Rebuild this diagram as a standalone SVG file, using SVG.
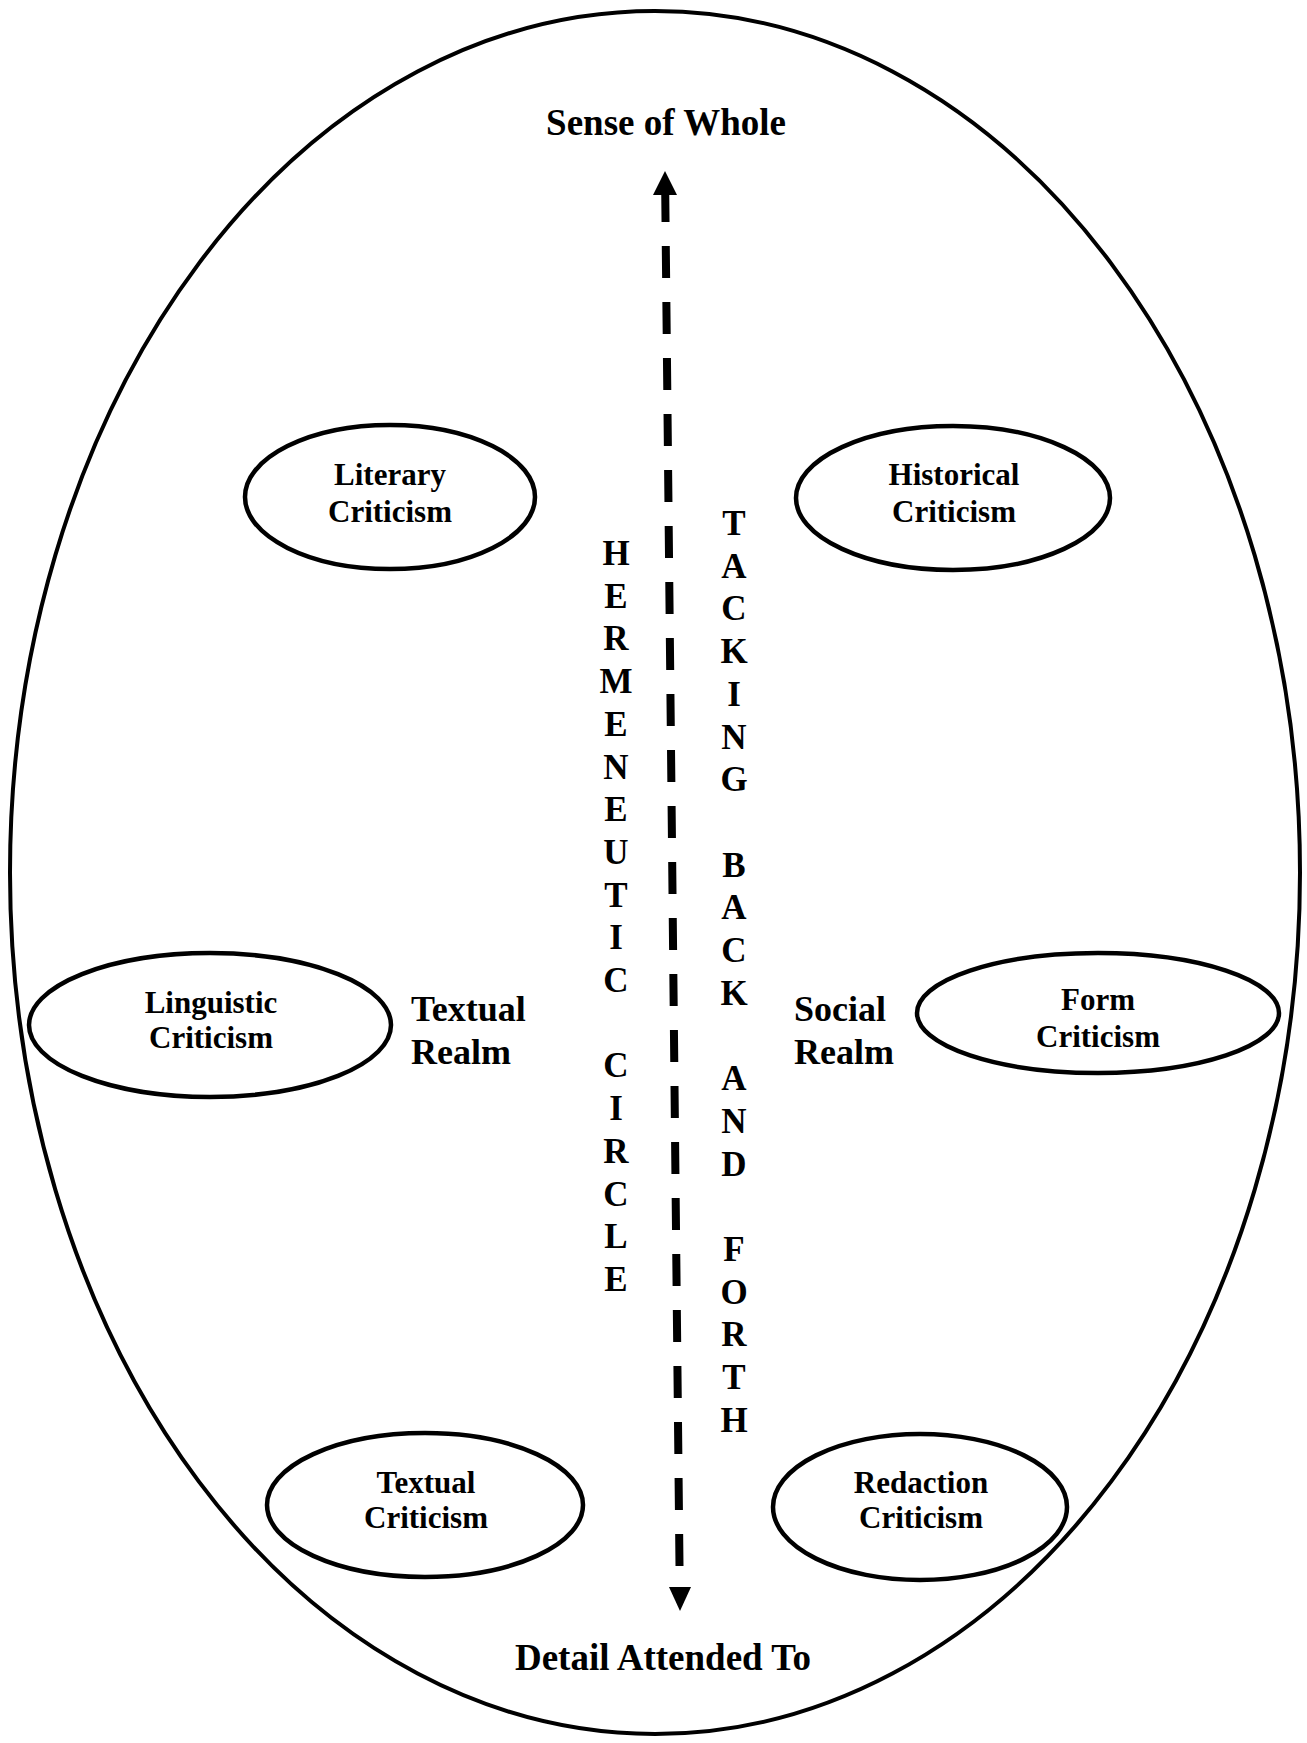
<svg xmlns="http://www.w3.org/2000/svg" width="1307" height="1743" viewBox="0 0 1307 1743">
<style>
.shape{fill:none;stroke:#000;stroke-width:4.5}
.outer{fill:none;stroke:#000;stroke-width:4}
.t{font-family:"Liberation Serif","Times New Roman",serif;font-weight:bold;fill:#000}
.n{font-size:31px;text-anchor:middle}
.big{font-size:37px;text-anchor:middle}
.realm{font-size:36px}
.v{font-size:35px;text-anchor:middle}
.dash{stroke:#000;stroke-width:8;stroke-dasharray:32 24;fill:none}
</style>
<rect x="0" y="0" width="1307" height="1743" fill="#fff"/>
<g id="outer">
<ellipse class="outer" cx="655" cy="872.5" rx="645" ry="861.5"/>
</g>
<g id="sense-of-whole"><text class="t big" x="666" y="135">Sense of Whole</text></g>
<g id="detail-attended-to"><text class="t big" x="663" y="1670">Detail Attended To</text></g>
<g id="connectors">
<line class="dash" x1="665.2" y1="190" x2="679.5" y2="1566"/>
<polygon points="665,171 677,195.1 653,194.9" fill="#000"/>
<polygon points="680,1611 691,1587 669,1587" fill="#000"/>
</g>
<g id="literary-criticism">
<ellipse class="shape" cx="390" cy="497" rx="145" ry="72"/>
<text class="t n" x="390" y="485">Literary</text>
<text class="t n" x="390" y="522">Criticism</text>
</g>
<g id="historical-criticism">
<ellipse class="shape" cx="953" cy="498" rx="157" ry="72"/>
<text class="t n" x="954" y="485">Historical</text>
<text class="t n" x="954" y="522">Criticism</text>
</g>
<g id="linguistic-criticism">
<ellipse class="shape" cx="210" cy="1025" rx="181" ry="72"/>
<text class="t n" x="211" y="1013">Linguistic</text>
<text class="t n" x="211" y="1048">Criticism</text>
</g>
<g id="form-criticism">
<ellipse class="shape" cx="1098" cy="1013" rx="181" ry="60"/>
<text class="t n" x="1098" y="1010">Form</text>
<text class="t n" x="1098" y="1047">Criticism</text>
</g>
<g id="textual-criticism">
<ellipse class="shape" cx="425" cy="1505" rx="158" ry="72"/>
<text class="t n" x="426" y="1493">Textual</text>
<text class="t n" x="426" y="1528">Criticism</text>
</g>
<g id="redaction-criticism">
<ellipse class="shape" cx="920" cy="1507" rx="147" ry="73"/>
<text class="t n" x="921" y="1493">Redaction</text>
<text class="t n" x="921" y="1528">Criticism</text>
</g>
<g id="textual-realm">
<text class="t realm" x="411" y="1021">Textual</text>
<text class="t realm" x="411" y="1064">Realm</text>
</g>
<g id="social-realm">
<text class="t realm" x="794" y="1021">Social</text>
<text class="t realm" x="794" y="1064">Realm</text>
</g>
<g id="hermeneutic-circle">
<text class="t v"><tspan x="616" y="565">H</tspan><tspan x="616" y="607.7">E</tspan><tspan x="616" y="650.4">R</tspan><tspan x="616" y="693.1">M</tspan><tspan x="616" y="735.8">E</tspan><tspan x="616" y="778.5">N</tspan><tspan x="616" y="821.2">E</tspan><tspan x="616" y="863.9">U</tspan><tspan x="616" y="906.6">T</tspan><tspan x="616" y="949.3">I</tspan><tspan x="616" y="992">C</tspan><tspan x="616" y="1077.4">C</tspan><tspan x="616" y="1120.1">I</tspan><tspan x="616" y="1162.8">R</tspan><tspan x="616" y="1205.5">C</tspan><tspan x="616" y="1248.2">L</tspan><tspan x="616" y="1290.9">E</tspan></text>
</g>
<g id="tacking-back-and-forth">
<text class="t v"><tspan x="734" y="535">T</tspan><tspan x="734" y="577.7">A</tspan><tspan x="734" y="620.4">C</tspan><tspan x="734" y="663.1">K</tspan><tspan x="734" y="705.8">I</tspan><tspan x="734" y="748.5">N</tspan><tspan x="734" y="791.2">G</tspan><tspan x="734" y="876.6">B</tspan><tspan x="734" y="919.3">A</tspan><tspan x="734" y="962">C</tspan><tspan x="734" y="1004.7">K</tspan><tspan x="734" y="1090.1">A</tspan><tspan x="734" y="1132.8">N</tspan><tspan x="734" y="1175.5">D</tspan><tspan x="734" y="1260.9">F</tspan><tspan x="734" y="1303.6">O</tspan><tspan x="734" y="1346.3">R</tspan><tspan x="734" y="1389">T</tspan><tspan x="734" y="1431.7">H</tspan></text>
</g>
</svg>
